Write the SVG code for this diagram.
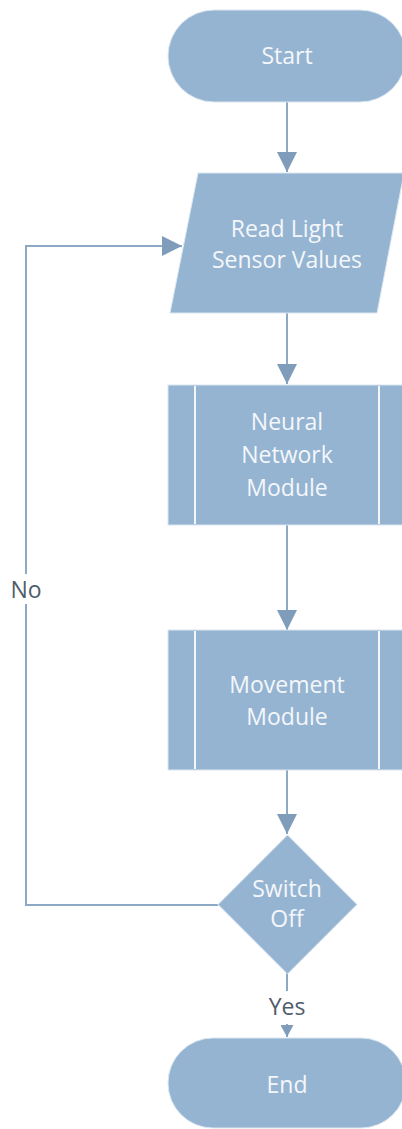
<svg xmlns="http://www.w3.org/2000/svg" width="402" height="1129" viewBox="0 0 402 1129">
<defs>
<style>
.n{fill:#95b4d2;stroke:#dbe6f0;stroke-width:1}
.t{font-family:"Open Sans","Noto Sans",sans-serif;font-size:23px;fill:#f4f7fa;text-anchor:middle;dominant-baseline:central}
.l{font-family:"Open Sans","Noto Sans",sans-serif;font-size:23px;fill:#4f5d6b;text-anchor:middle;dominant-baseline:central}
.c{fill:none;stroke:#8ca9c5;stroke-width:2}
.sep{stroke:#f4f7fa;stroke-width:2}
</style>
<marker id="ah" viewBox="0 0 20 20" refX="20" refY="10" markerWidth="20" markerHeight="20" markerUnits="userSpaceOnUse" orient="auto">
<path d="M0,0 L20,10 L0,20 Z" fill="#7f9dba"/>
</marker>
<marker id="ahs" viewBox="0 0 12 13" refX="12" refY="6.5" markerWidth="12" markerHeight="13" markerUnits="userSpaceOnUse" orient="auto">
<path d="M0,0 L12,6.5 L0,13 Z" fill="#7f9dba"/>
</marker>
</defs>
<g id="connectors">
<path class="c" d="M287,102 V172" marker-end="url(#ah)"/>
<path class="c" d="M287,313 V384" marker-end="url(#ah)"/>
<path class="c" d="M287,525 V630" marker-end="url(#ah)"/>
<path class="c" d="M287,770 V834" marker-end="url(#ah)"/>
<path class="c" d="M218,905 H26 V604"/>
<path class="c" d="M26,574 V246 H182" marker-end="url(#ah)"/>
<path class="c" d="M287,973 V991"/>
<path class="c" d="M287,1024 V1037" marker-end="url(#ahs)"/>
<text class="l" x="26" y="589">No</text>
<text class="l" x="287" y="1006">Yes</text>
</g>
<g id="start">
<rect class="n" x="168" y="10" width="238" height="92" rx="46" ry="46"/>
<text class="t" x="287" y="55">Start</text>
</g>
<g id="read">
<path class="n" d="M198,173 H404 L377,313 H170 Z"/>
<text class="t" x="287" y="228">Read Light</text>
<text class="t" x="287" y="259">Sensor Values</text>
</g>
<g id="neural">
<rect class="n" x="168" y="385" width="238" height="140"/>
<line class="sep" x1="195" y1="386" x2="195" y2="524"/>
<line class="sep" x1="379" y1="386" x2="379" y2="524"/>
<text class="t" x="287" y="421">Neural</text>
<text class="t" x="287" y="454">Network</text>
<text class="t" x="287" y="487">Module</text>
</g>
<g id="movement">
<rect class="n" x="168" y="630" width="238" height="140"/>
<line class="sep" x1="195" y1="631" x2="195" y2="769"/>
<line class="sep" x1="379" y1="631" x2="379" y2="769"/>
<text class="t" x="287" y="684">Movement</text>
<text class="t" x="287" y="716">Module</text>
</g>
<g id="switch">
<path class="n" d="M287.5,835 L357,904.5 L287.5,974 L218,904.5 Z"/>
<text class="t" x="287" y="888">Switch</text>
<text class="t" x="287" y="918">Off</text>
</g>
<g id="end">
<rect class="n" x="168" y="1038" width="238" height="90" rx="45" ry="45"/>
<text class="t" x="287" y="1084">End</text>
</g>
</svg>
